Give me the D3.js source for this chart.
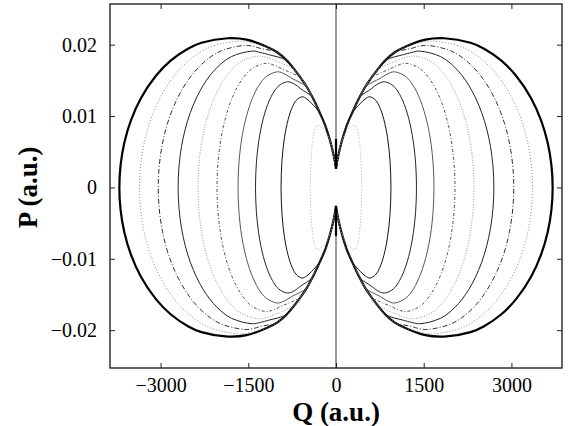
<!DOCTYPE html>
<html><head><meta charset="utf-8">
<script src="https://cdn.jsdelivr.net/npm/d3@7"></script>
<style>body{margin:0;background:#fff}</style>
</head><body>
<svg id="c" width="570" height="426"></svg>
<script>
// ---- data (upper-left quadrant; lobes are symmetric in P and Q) ----
const xTicks = [-3000, -1500, 0, 1500, 3000];
const xTickLabels = ["\u22123000", "\u22121500", "0", "1500", "3000"];
const yTicks = [-0.02, -0.01, 0, 0.01, 0.02];
const yTickLabels = ["\u22120.02", "\u22120.01", "0", "0.01", "0.02"];

// shared inner boundary (envelope) from the top of the outer orbit down to the cusp
const envelope = [[-1527,.0207],[-1185,.0197],[-1000,.0189],[-843,.0178],[-700,.0164],[-600,.0153],[-501,.0141],[-400,.0126],[-274,.0104],[-180,.0086],[-103,.0066],[-40,.0045],[-5,.0029],[0,.0026]];

// each orbit: from its leftmost point (P=0) over its top to where it joins the envelope
const outerArc = [[-3705,0],[-3684,.00314],[-3620,.00627],[-3507,.0094],[-3334,.01254],[-3076,.01568],[-2828,.01777],[-2533,.01944],[-2301,.02027],[-1850,.0209]];
const arc1 = [[-3360,0],[-3283,.00615],[-3083,.01128],[-2790,.01538],[-2478,.01804],[-2150,.01968],[-1680,.0205],[-1560,.02045],[-1450,.0203],[-1185,.0197]];
const arc2 = [[-3040,0],[-2972,.00597],[-2796,.01095],[-2538,.01493],[-2263,.01751],[-1974,.0191],[-1560,.0199],[-1430,.0198],[-1300,.0195],[-1000,.0189]];
const arc3 = [[-2700,0],[-2642,.00573],[-2490,.01051],[-2269,.01433],[-2033,.01681],[-1786,.01834],[-1430,.0191],[-1290,.0189],[-1150,.0186],[-843,.0178]];
const arc4 = [[-2360,0],[-2313,.00552],[-2190,.01012],[-2011,.0138],[-1819,.01619],[-1618,.01766],[-1330,.0184],[-1190,.0182],[-1050,.0178],[-700,.0164]];
const arc5 = [[-2035,0],[-1996,.00522],[-1896,.00957],[-1749,.01305],[-1591,.01531],[-1427,.0167],[-1190,.0174],[-1055,.0171],[-920,.0166],[-600,.0153]];
const arc6 = [[-1675,0],[-1644,.00486],[-1564,.00891],[-1446,.01215],[-1321,.01426],[-1189,.01555],[-1000,.0162],[-880,.0159],[-760,.0153],[-501,.0141]];
const arc7 = [[-1376,0],[-1351,.00444],[-1286,.00814],[-1191,.0111],[-1089,.01302],[-983,.01421],[-830,.0148],[-715,.0145],[-600,.0138],[-400,.0126]];
const arc8 = [[-940,0],[-923,.00381],[-881,.00699],[-818,.00953],[-751,.01118],[-681,.01219],[-580,.0127],[-500,.0124],[-420,.0118],[-274,.0104]];
const arc9 = [[-440,0],[-434,.00261],[-420,.00479],[-399,.00653],[-377,.00766],[-354,.00835],[-320,.0087],[-260,.0085],[-200,.0080],[-103,.0066]];

const orbitArcs = [outerArc, arc1, arc2, arc3, arc4, arc5, arc6, arc7, arc8, arc9];
const orbitStyles = [
  {c:"#000", w:2.2, d:null},
  {c:"#8a8a8a", w:1, d:"1,2"},
  {c:"#333", w:1, d:"5,2,1,2"},
  {c:"#222", w:1, d:null},
  {c:"#999", w:1, d:"1,1.6"},
  {c:"#555", w:1, d:"3,2,1,2"},
  {c:"#444", w:0.9, d:null},
  {c:"#222", w:1, d:null},
  {c:"#111", w:1, d:null},
  {c:"#aaa", w:1, d:"1,2"}
];
const cuspP = 0.0026;
const cuspStemTop = 0.0068;

// ---- drawing ----
const svg = d3.select("#c");
const x = d3.scaleLinear().domain([-3865, 3865]).range([110, 562]);
const y = d3.scaleLinear().domain([-0.0253, 0.0257]).range([368, 4]);

const line = d3.line().x(d => x(d[0])).y(d => y(d[1])).curve(d3.curveCatmullRom.alpha(0.5));

function lobe(arc, sx) {
  const joinQ = arc[arc.length - 1][0];
  const upper = arc.concat(envelope.filter(p => p[0] > joinQ));
  const top = upper.slice().reverse();
  const bottom = upper.slice(1).map(p => [p[0], -p[1]]);
  return top.concat(bottom).map(p => [sx * p[0], p[1]]);
}

const g = svg.append("g");
orbitArcs.forEach((arc, i) => {
  const st = orbitStyles[i];
  [-1, 1].forEach(sx => {
    g.append("path")
      .attr("d", line(lobe(arc, sx)))
      .attr("fill", "none")
      .attr("stroke", st.c)
      .attr("stroke-width", st.w)
      .attr("stroke-dasharray", st.d)
      .attr("stroke-linejoin", "round");
  });
});

// vertical line at Q = 0 (outside the cusp gap)
const yd = y.domain();
[[cuspP, yd[1]], [-cuspP, yd[0]]].forEach(seg => {
  g.append("line").attr("x1", x(0)).attr("x2", x(0))
    .attr("y1", y(seg[0])).attr("y2", y(seg[1]))
    .attr("stroke", "#222").attr("stroke-width", 0.9);
});
[[cuspP, cuspStemTop], [-cuspP, -cuspStemTop]].forEach(seg => {
  g.append("line").attr("x1", x(0)).attr("x2", x(0))
    .attr("y1", y(seg[0])).attr("y2", y(seg[1]))
    .attr("stroke", "#000").attr("stroke-width", 2.2);
});

// frame
const [x0, x1] = x.range();
const [yb, yt] = y.range();
svg.append("rect").attr("x", x0).attr("y", yt).attr("width", x1 - x0).attr("height", yb - yt)
  .attr("fill", "none").attr("stroke", "#111").attr("stroke-width", 1.3);

// axes with inward ticks
const font = "Liberation Serif, Times New Roman, serif";
const ax = svg.append("g");
const bottomAxis = d3.axisBottom(x).tickValues(xTicks).tickSize(-5).tickPadding(10)
  .tickFormat((d, i) => xTickLabels[i]);
const topAxis = d3.axisTop(x).tickValues(xTicks).tickSize(-5).tickFormat("");
const leftAxis = d3.axisLeft(y).tickValues(yTicks).tickSize(-5).tickPadding(13)
  .tickFormat((d, i) => yTickLabels[i]);
const rightAxis = d3.axisRight(y).tickValues(yTicks).tickSize(-5).tickFormat("");

function styleAxis(sel) {
  sel.select(".domain").remove();
  sel.selectAll(".tick line").attr("stroke", "#222").attr("stroke-width", 1);
  sel.selectAll(".tick text").attr("fill", "#000").attr("font-size", 20)
    .attr("font-family", font);
}
ax.append("g").attr("transform", `translate(0,${yb})`).call(bottomAxis).call(styleAxis);
ax.append("g").attr("transform", `translate(0,${yt})`).call(topAxis).call(styleAxis);
ax.append("g").attr("transform", `translate(${x0},0)`).call(leftAxis).call(styleAxis);
ax.append("g").attr("transform", `translate(${x1},0)`).call(rightAxis).call(styleAxis);

// axis titles
svg.append("text").attr("x", x(0)).attr("y", 421).attr("text-anchor", "middle")
  .attr("font-family", font).attr("font-weight", "bold")
  .attr("font-size", 27).text("Q (a.u.)");
svg.append("text").attr("transform", `translate(37,${y(0)}) rotate(-90)`).attr("text-anchor", "middle")
  .attr("font-family", font).attr("font-weight", "bold")
  .attr("font-size", 27).text("P (a.u.)");
</script>
</body></html>
